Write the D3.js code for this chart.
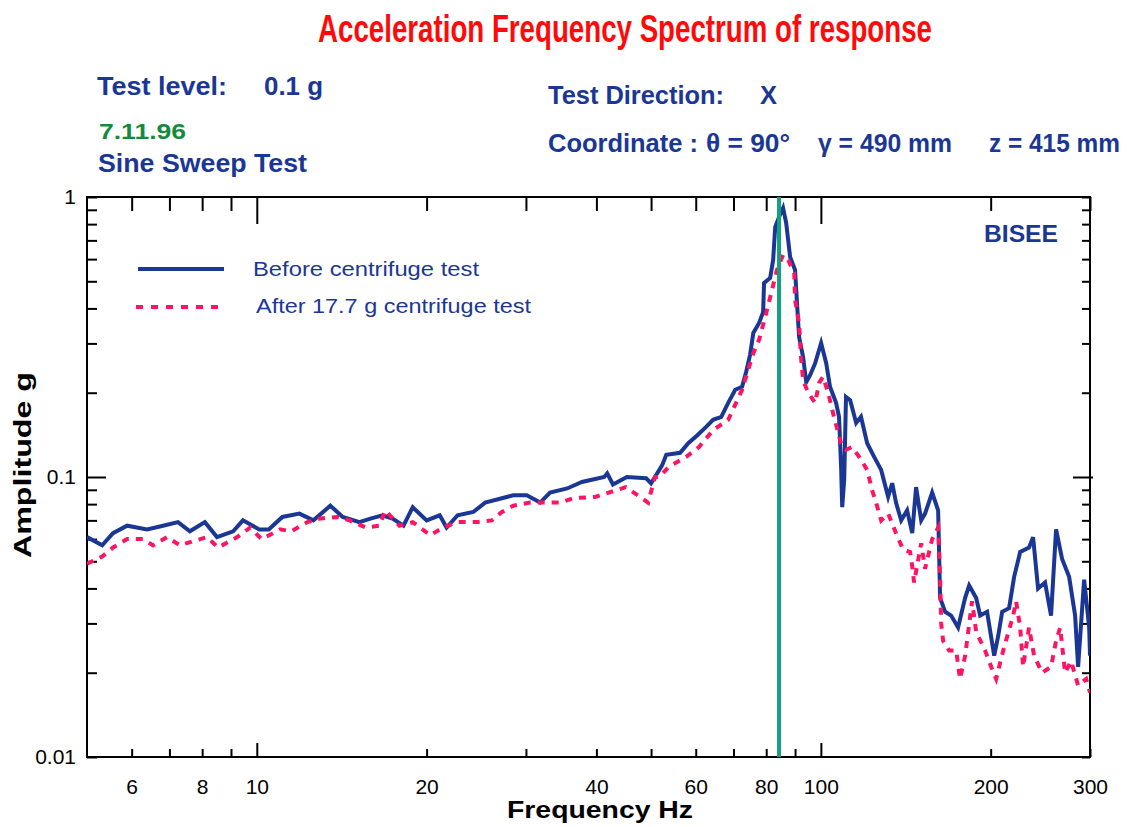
<!DOCTYPE html>
<html>
<head>
<meta charset="utf-8">
<script src="https://cdnjs.cloudflare.com/ajax/libs/d3/7.8.5/d3.min.js"></script>
<style>
body { margin: 0; background: #fff; }
svg text { font-family: "Liberation Sans", Arial, sans-serif; }
</style>
</head>
<body>
<div id="chart"></div>
<script>

// Data

var freqBefore = [5.00, 5.32, 5.56, 5.89, 6.39, 6.82, 7.25, 7.61, 8.09, 8.50, 9.08, 9.45, 10.1, 10.5, 11.1, 11.9, 12.6, 13.5, 14.2, 15.2,
	15.9, 16.7, 17.4, 18.2, 18.9, 20.0, 21.1, 21.7, 22.7, 24.2, 25.4, 27.2, 28.5, 30.1, 31.8, 33.1, 35.5, 37.7, 41.3, 41.8,
	42.8, 45.3, 49.0, 50.0, 52.3, 53.2, 56.3, 58.2, 60.4, 62.6, 64.4, 66.6, 68.5, 70.5, 72.5, 73.7, 74.9, 75.9, 77.7, 79.0,
	79.3, 81.3, 82.3, 83.0, 84.3, 85.7, 86.8, 88.2, 90.0, 90.8, 91.5, 93.0, 94.2, 95.7, 97.7, 100.1, 102.2, 103.8, 106.4, 107.7,
	108.6, 109.1, 110.0, 110.8, 112.7, 115.5, 117.8, 120.8, 124.3, 127.9, 131.6, 133.8, 135.9, 138.8, 142.2, 145.2, 147.5, 150.6, 153.0, 157.5,
	161.4, 162.7, 166.1, 170.2, 175.1, 180.2, 183.2, 188.5, 191.6, 197.1, 202.9, 206.2, 209.6, 215.6, 220.1, 225.6, 233.9, 237.8, 242.7, 249.7,
	255.9, 261.2, 267.7, 275.5, 282.3, 285.8, 292.9, 299.0, 300];
var ampBefore = [0.061, 0.057, 0.063, 0.067, 0.065, 0.067, 0.069, 0.064, 0.069, 0.061, 0.064, 0.070, 0.065, 0.065, 0.072, 0.074, 0.070, 0.079, 0.072, 0.069,
	0.071, 0.073, 0.071, 0.067, 0.078, 0.070, 0.073, 0.066, 0.073, 0.075, 0.081, 0.084, 0.086, 0.086, 0.081, 0.088, 0.091, 0.096, 0.100, 0.103,
	0.094, 0.100, 0.099, 0.095, 0.110, 0.120, 0.122, 0.132, 0.141, 0.151, 0.160, 0.164, 0.184, 0.205, 0.210, 0.237, 0.273, 0.327, 0.355, 0.388,
	0.493, 0.514, 0.596, 0.782, 0.848, 0.914, 0.807, 0.611, 0.549, 0.405, 0.316, 0.268, 0.218, 0.231, 0.255, 0.301, 0.255, 0.210, 0.184, 0.164,
	0.109, 0.078, 0.098, 0.193, 0.188, 0.156, 0.164, 0.132, 0.118, 0.106, 0.085, 0.095, 0.081, 0.070, 0.076, 0.063, 0.092, 0.070, 0.074, 0.088,
	0.076, 0.037, 0.033, 0.032, 0.029, 0.037, 0.041, 0.037, 0.032, 0.033, 0.023, 0.027, 0.033, 0.034, 0.044, 0.054, 0.056, 0.061, 0.040, 0.042,
	0.032, 0.065, 0.051, 0.044, 0.032, 0.021, 0.043, 0.029, 0.023];

var freqAfter = [5.00, 5.32, 5.56, 5.89, 6.28, 6.55, 6.93, 7.31, 7.71, 8.16, 8.54, 9.23, 9.73, 10.2, 11.0, 11.5, 12.3, 12.9, 13.9, 14.6,
	15.6, 16.5, 16.9, 17.9, 18.9, 20.3, 21.4, 22.7, 24.6, 26.1, 27.2, 28.5, 30.5, 32.7, 34.5, 36.4, 39.9, 45.1, 49.4, 50.8,
	51.7, 53.8, 57.7, 60.8, 64.4, 68.5, 72.5, 75.9, 77.7, 80.0, 81.9, 83.6, 85.7, 87.5, 89.7, 90.0, 91.5, 92.2, 93.0, 94.9,
	97.7, 99.3, 100.9, 103.0, 105.5, 108.6, 110.8, 113.6, 116.9, 120.8, 123.2, 125.3, 127.9, 131.6, 135.9, 139.9, 143.9, 145.2, 146.3, 150.6,
	153.0, 157.5, 161.4, 162.7, 163.4, 164.7, 168.8, 173.7, 176.5, 180.2, 185.4, 188.5, 195.5, 200.4, 204.5, 210.5, 219.2, 221.9, 225.6, 228.3,
	233.9, 238.8, 246.7, 255.9, 261.2, 265.6, 271.0, 277.7, 285.8, 295.3, 300];
var ampAfter = [0.049, 0.052, 0.056, 0.060, 0.060, 0.057, 0.061, 0.057, 0.059, 0.061, 0.056, 0.061, 0.066, 0.060, 0.065, 0.064, 0.069, 0.071, 0.072, 0.070,
	0.066, 0.067, 0.076, 0.067, 0.069, 0.062, 0.066, 0.069, 0.069, 0.070, 0.075, 0.079, 0.081, 0.081, 0.081, 0.084, 0.085, 0.092, 0.081, 0.100,
	0.100, 0.109, 0.118, 0.128, 0.147, 0.160, 0.205, 0.277, 0.309, 0.385, 0.465, 0.549, 0.621, 0.596, 0.535, 0.429, 0.355, 0.268, 0.222, 0.200,
	0.184, 0.217, 0.228, 0.200, 0.164, 0.132, 0.125, 0.128, 0.118, 0.106, 0.090, 0.081, 0.070, 0.074, 0.063, 0.055, 0.054, 0.048, 0.042, 0.058,
	0.047, 0.060, 0.066, 0.044, 0.030, 0.026, 0.024, 0.024, 0.019, 0.023, 0.036, 0.028, 0.024, 0.021, 0.019, 0.024, 0.032, 0.036, 0.029, 0.021,
	0.029, 0.023, 0.020, 0.021, 0.026, 0.029, 0.020, 0.022, 0.018, 0.019, 0.017];

var resonanceHz = 84.3;
var seriesNames = ["Before centrifuge test", "After 17.7 g centrifuge test"];

var xTickValues = [6, 7, 8, 9, 10, 20, 30, 40, 50, 60, 70, 80, 90, 100, 200, 300];
var xTickLabels = [6, 8, 10, 20, 40, 60, 80, 100, 200, 300];
var yTickValues = [0.01, 0.02, 0.03, 0.04, 0.05, 0.06, 0.07, 0.08, 0.09, 0.1, 0.2, 0.3, 0.4, 0.5, 0.6, 0.7, 0.8, 0.9, 1];
var yTickLabels = [0.01, 0.1, 1];
var majorX = [10, 100];
var majorY = [0.1];

// Dimensions

var width = 1130;
var height = 827;
var margin = {top: 197, right: 40, bottom: 70, left: 87};
var plotW = width - margin.left - margin.right;
var plotH = height - margin.top - margin.bottom;

var blue = "#1b3795";
var pink = "#ff1464";
var green = "#12a07e";

var svg = d3.select("#chart")
	.append("svg")
	.attr("width", width)
	.attr("height", height);

// Header texts

function addText(x, y, str, size, color, len, weight) {
	return svg.append("text")
		.attr("x", x)
		.attr("y", y)
		.attr("font-size", size)
		.attr("font-weight", weight || "bold")
		.attr("fill", color)
		.attr("textLength", len)
		.attr("lengthAdjust", "spacingAndGlyphs")
		.text(str);
}

addText(318, 42, "Acceleration Frequency Spectrum of response", 38, "#ff0a0a", 614);
addText(97, 95, "Test level:", 25, blue, 130);
addText(264, 95, "0.1 g", 25, blue, 59);
addText(99, 139, "7.11.96", 22, "#138a3c", 87);
addText(98, 172, "Sine Sweep Test", 25, blue, 209);
addText(548, 104, "Test Direction:", 25, blue, 176);
addText(760, 104, "X", 25, blue, 17);
addText(548, 152, "Coordinate :", 25, blue, 150);
addText(706, 152, "\u03b8 = 90\u00b0", 25, blue, 84);
addText(818, 152, "\u03b3 = 490 mm", 25, blue, 134);
addText(989, 152, "z = 415 mm", 25, blue, 131);

// Scales

var x = d3.scaleLog().domain([5, 300]).range([0, plotW]);
var y = d3.scaleLog().domain([0.01, 1]).range([plotH, 0]);

var g = svg.append("g")
	.attr("transform", "translate(" + margin.left + "," + margin.top + ")");

g.append("clipPath")
	.attr("id", "plotClip")
	.append("rect")
	.attr("width", plotW)
	.attr("height", plotH);

// Axes (ticks drawn inward on all four sides)

function labelX(d) { return xTickLabels.indexOf(d) > -1 ? d : ""; }
function labelY(d) { return yTickLabels.indexOf(d) > -1 ? String(d) : ""; }

var axisB = g.append("g")
	.attr("transform", "translate(0," + plotH + ")")
	.call(d3.axisBottom(x).tickValues(xTickValues).tickSize(-8).tickSizeOuter(0).tickPadding(22).tickFormat(labelX));
axisB.selectAll(".tick line").filter(function(d) { return majorX.indexOf(d) > -1; }).attr("y2", -14);

var axisT = g.append("g")
	.call(d3.axisTop(x).tickValues(xTickValues).tickSize(-14).tickSizeOuter(0).tickFormat(""));
axisT.selectAll(".tick line").filter(function(d) { return majorX.indexOf(d) > -1; }).attr("y2", 27);

var axisL = g.append("g")
	.call(d3.axisLeft(y).tickValues(yTickValues).tickSize(-10).tickSizeOuter(0).tickPadding(11).tickFormat(labelY));
axisL.selectAll(".tick line").filter(function(d) { return majorY.indexOf(d) > -1; }).attr("x2", 19);

var axisR = g.append("g")
	.attr("transform", "translate(" + plotW + ",0)")
	.call(d3.axisRight(y).tickValues(yTickValues).tickSize(-8).tickSizeOuter(0).tickFormat(""));
axisR.selectAll(".tick line").filter(function(d) { return majorY.indexOf(d) > -1; }).attr("x1", 3).attr("x2", -17);

g.selectAll(".domain").remove();
g.selectAll(".tick line").attr("stroke", "#000").attr("stroke-width", 2);
g.selectAll(".tick text")
	.attr("fill", "#000")
	.attr("font-size", 21)
	.attr("font-family", "'Liberation Sans', Arial, sans-serif");

// Frame

g.append("rect")
	.attr("width", plotW)
	.attr("height", plotH)
	.attr("fill", "none")
	.attr("stroke", "#000")
	.attr("stroke-width", 2);

// Axis titles

addText(507, 818, "Frequency Hz", 23, "#000", 186);

svg.append("text")
	.attr("transform", "translate(31,558) rotate(-90)")
	.attr("font-size", 23)
	.attr("font-weight", "bold")
	.attr("textLength", 186)
	.attr("lengthAdjust", "spacingAndGlyphs")
	.attr("fill", "#000")
	.text("Amplitude g");

// Series

var line = d3.line()
	.x(function(d) { return x(d[0]); })
	.y(function(d) { return y(d[1]); });

var plot = g.append("g").attr("clip-path", "url(#plotClip)");

plot.append("path")
	.datum(d3.zip(freqBefore, ampBefore))
	.attr("d", line)
	.attr("fill", "none")
	.attr("stroke", blue)
	.attr("stroke-width", 4)
	.attr("stroke-linejoin", "miter");

plot.append("path")
	.datum(d3.zip(freqAfter, ampAfter))
	.attr("d", line)
	.attr("fill", "none")
	.attr("stroke", pink)
	.attr("stroke-width", 4)
	.attr("stroke-dasharray", "7,7");

// Resonance marker

plot.append("line")
	.attr("x1", x(resonanceHz))
	.attr("x2", x(resonanceHz))
	.attr("y1", 0)
	.attr("y2", plotH)
	.attr("stroke", green)
	.attr("stroke-width", 4);

// Legend

var legend = svg.append("g");

legend.append("line")
	.attr("x1", 138).attr("x2", 224)
	.attr("y1", 269).attr("y2", 269)
	.attr("stroke", blue)
	.attr("stroke-width", 4);

legend.append("line")
	.attr("x1", 136).attr("x2", 226)
	.attr("y1", 307).attr("y2", 307)
	.attr("stroke", pink)
	.attr("stroke-width", 4)
	.attr("stroke-dasharray", "7,8");

addText(253, 276, seriesNames[0], 21, blue, 226, "normal");
addText(256, 313, seriesNames[1], 21, blue, 275, "normal");

addText(984, 242, "BISEE", 23, blue, 74);

</script>
</body>
</html>
